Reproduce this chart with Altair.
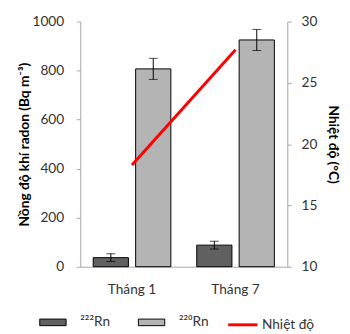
import altair as alt
import pandas as pd

months = ["Tháng 1", "Tháng 7"]
series = ["²²²Rn", "²²⁰Rn"]
rn222 = [37, 88]
rn222_err = [16, 16]
rn220 = [807, 925]
rn220_err = [43, 43]
temp = [18.3, 27.7]
temp_label = "Nhiệt độ"

rows = []
for i, m in enumerate(months):
    rows.append({"month": m, "series": series[0], "value": rn222[i],
                 "low": rn222[i] - rn222_err[i], "high": rn222[i] + rn222_err[i]})
    rows.append({"month": m, "series": series[1], "value": rn220[i],
                 "low": rn220[i] - rn220_err[i], "high": rn220[i] + rn220_err[i]})
bars_df = pd.DataFrame(rows)
temp_df = pd.DataFrame({"month": months, "temp": temp, "lab": [temp_label] * len(months)})

FONT = "Lato"
x_enc = alt.X("month:N", sort=months, title=None,
              scale=alt.Scale(paddingInner=0.25, paddingOuter=0.125),
              axis=alt.Axis(labelAngle=0, ticks=False, labelPadding=16, labelFontSize=14,
                            labelColor="#333333", domainColor="#a6a6a6", labelFont=FONT))
xo_enc = alt.XOffset("series:N", sort=series,
                     scale=alt.Scale(paddingInner=0.17, paddingOuter=0))
y_scale = alt.Scale(domain=[0, 1000], nice=False)

base = alt.Chart(bars_df)
bars = base.mark_bar(stroke="black", strokeWidth=1).encode(
    x=x_enc, xOffset=xo_enc,
    y=alt.Y("value:Q", scale=y_scale, title="Nồng độ khí radon (Bq m⁻³)",
            axis=alt.Axis(values=[0, 200, 400, 600, 800, 1000], format="d", grid=False,
                          tickSize=4, labelPadding=13, labelFontSize=14, labelColor="#333333",
                          domainColor="#a6a6a6", tickColor="#a6a6a6", labelFont=FONT,
                          titleFont=FONT, titleFontSize=14, titleFontWeight="bold",
                          titleColor="black", titlePadding=1)),
    fill=alt.Fill("series:N", sort=series,
                  scale=alt.Scale(domain=series, range=["#606060", "#b4b4b4"]),
                  legend=alt.Legend(title=None, orient="none", direction="horizontal",
                                    legendX=-42, legendY=294, padding=0,
                                    symbolType="M-1,-0.25H1V0.25H-1Z", symbolSize=729,
                                    symbolStrokeColor="black", symbolStrokeWidth=1,
                                    labelOffset=14, columnPadding=26, labelFontSize=14,
                                    labelFont=FONT, labelColor="#333333")),
)
rules = base.mark_rule(color="black", strokeWidth=1).encode(
    x=x_enc, xOffset=xo_enc, y=alt.Y("low:Q", scale=y_scale), y2="high:Q")
caps_hi = base.mark_tick(color="black", thickness=1, size=9).encode(
    x=x_enc, xOffset=xo_enc, y=alt.Y("high:Q", scale=y_scale))
caps_lo = base.mark_tick(color="black", thickness=1, size=9).encode(
    x=x_enc, xOffset=xo_enc, y=alt.Y("low:Q", scale=y_scale))

left = alt.layer(bars, rules, caps_hi, caps_lo)

line = alt.Chart(temp_df).mark_line(strokeWidth=3).encode(
    x=alt.X("month:N", sort=months),
    y=alt.Y("temp:Q", scale=alt.Scale(domain=[10, 30], nice=False), title="Nhiệt độ (°C)",
            axis=alt.Axis(orient="right", values=[10, 15, 20, 25, 30], grid=False, tickSize=4,
                          labelPadding=10, labelFontSize=14, labelColor="#333333",
                          domainColor="#a6a6a6", tickColor="#a6a6a6", labelFont=FONT,
                          titleFont=FONT, titleFontSize=14, titleFontWeight="bold",
                          titleColor="black", titlePadding=9)),
    stroke=alt.Stroke("lab:N", scale=alt.Scale(domain=[temp_label], range=["#ff0000"]),
                      legend=alt.Legend(title=None, orient="none", legendX=150, legendY=294,
                                        padding=0, symbolType="stroke", symbolSize=900,
                                        symbolStrokeWidth=3, labelOffset=3, labelFontSize=14,
                                        labelFont=FONT, labelColor="#333333")),
)

chart = alt.layer(left, line).resolve_scale(y="independent").properties(
    width=212, height=251,
    padding={"left": 74, "top": 10, "right": 56, "bottom": 65},
    autosize="none",
).configure_view(stroke=None)

chart.save("out.html", embed_options={"renderer": "svg", "actions": False})
